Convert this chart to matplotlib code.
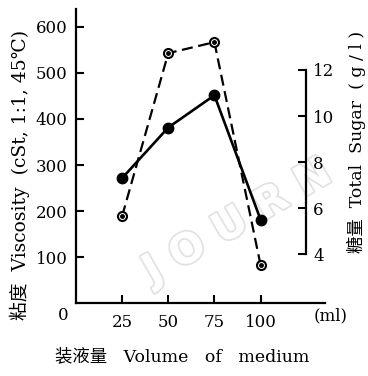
import matplotlib
matplotlib.use('Agg')
import matplotlib.pyplot as plt
import matplotlib.patheffects as pe

# 装液量 (ml)
volumes = [25, 50, 75, 100]
# 粘度 Viscosity (cSt) - dashed, open circles
viscosity = [189, 543, 567, 83]
# 糖量 Total Sugar (g/l) - solid, filled circles
total_sugar = [7.3, 9.5, 10.9, 5.5]

x_ticks = [25, 50, 75, 100]
visc_ticks = [100, 200, 300, 400, 500, 600]
sugar_ticks = [4, 6, 8, 10, 12]

plt.rcParams['font.family'] = ['DejaVu Serif', 'Noto Sans CJK SC']

fig = plt.figure(figsize=(3.68, 3.76), dpi=100)
ax = fig.add_axes([0.2065, 0.194, 0.677, 0.782])

# faint watermark, behind everything
ax.text(0.645, 0.41, 'J O U R N', rotation=30, ha='center', va='center', fontsize=30,
        family='DejaVu Sans', fontweight='bold', color='white', zorder=0,
        transform=fig.transFigure, clip_on=False,
        path_effects=[pe.withStroke(linewidth=2.5, foreground='#e2e2e2')])

ax.plot(volumes, viscosity, color='black', lw=1.6, ls=(0, (5, 2.5)),
        marker='o', ms=6.5, mfc='white', mec='black', mew=1.5, zorder=3)
ax.plot(volumes, viscosity, ls='none', marker='o', ms=2.5, color='black', zorder=4)

ax.set_xlim(0, 135)
ax.set_ylim(0, 639)
ax.set_xticks(x_ticks)
ax.set_yticks(visc_ticks)
ax.tick_params(axis='both', direction='in', length=6, width=1.5, labelsize=12, pad=6)
ax.tick_params(axis='x', pad=8)
for s in ['top', 'right']:
    ax.spines[s].set_visible(False)
for s in ['left', 'bottom']:
    ax.spines[s].set_linewidth(1.6)

ax.text(-7, -27, '0', ha='center', va='center', fontsize=12, clip_on=False)
ax.text(138, -27, '(ml)', ha='center', va='center', fontsize=12, clip_on=False)

ax2 = ax.twinx()
ax2.plot(volumes, total_sugar, color='black', lw=1.9, marker='o', ms=7.5,
         mfc='black', mec='black', zorder=3)
ax2.set_ylim(1.87, 14.65)
ax2.set_yticks(sugar_ticks)
for s in ['top', 'left', 'bottom']:
    ax2.spines[s].set_visible(False)
ax2.spines['right'].set_position(('axes', 0.924))
ax2.spines['right'].set_bounds(4, 12)
ax2.spines['right'].set_linewidth(1.6)
ax2.tick_params(axis='y', direction='in', length=6, width=1.5, labelsize=12, pad=5)

fig.text(0.054, 0.535, '粘度  Viscosity  (cSt, 1:1, 45℃)', rotation=90,
         ha='center', va='center', fontsize=13.5)
fig.text(0.968, 0.622, '糖量  Total  Sugar  ( g / l )', rotation=90,
         ha='center', va='center', fontsize=12.5)
fig.text(0.495, 0.05, '装液量   Volume   of   medium', ha='center', va='center',
         fontsize=12.5)

fig.savefig('out.png', dpi=100)
